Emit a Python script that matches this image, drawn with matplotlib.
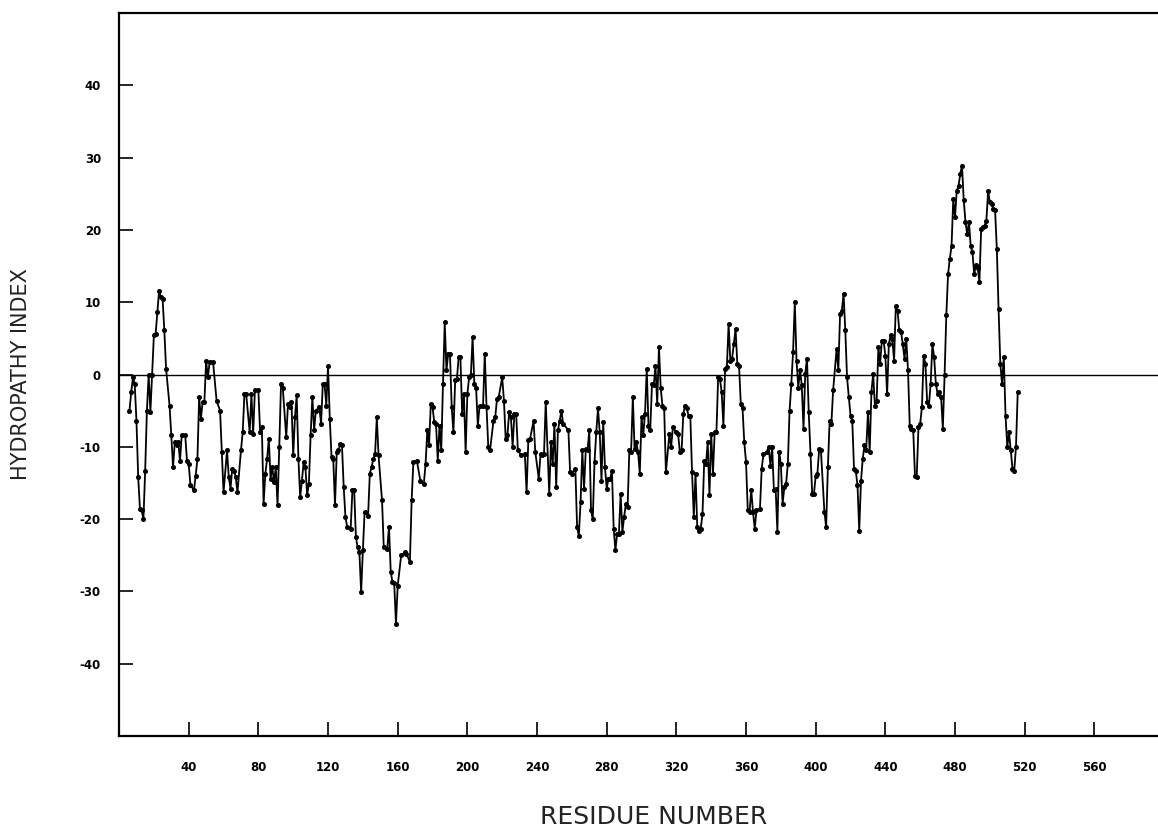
import matplotlib.pyplot as plt

# residue positions and hydropathy values
residue = [
    6, 7, 8, 9, 10, 11, 12, 13, 14, 15, 16, 17, 18, 19, 20, 21, 22, 23, 24, 25,
    26, 27, 29, 30, 31, 32, 33, 34, 35, 36, 38, 39, 40, 41, 43, 44, 45, 46, 47, 48,
    49, 50, 51, 52, 54, 56, 58, 59, 60, 62, 63, 64, 65, 66, 67, 68, 70, 71, 72, 73,
    75, 76, 77, 78, 80, 81, 82, 83, 84, 85, 86, 87, 88, 89, 90, 91, 92, 93, 94, 96,
    97, 98, 99, 100, 101, 102, 103, 104, 105, 106, 107, 108, 109, 110, 111, 112, 113, 115, 116, 117,
    118, 119, 120, 121, 122, 123, 124, 125, 126, 127, 128, 129, 130,
    131, 133, 134, 135, 136, 137, 138, 139, 140, 141, 143, 144, 145, 146, 147, 148, 149, 151, 152, 154,
    155, 156, 157, 158, 159, 160, 162, 164, 165, 167, 168, 169, 171, 173, 175, 176, 177, 178, 179, 180,
    181, 182, 183, 184, 185, 186, 187, 188, 189, 190, 191, 192, 193, 194, 195, 196, 197, 198, 199, 200,
    201, 202, 203, 204, 205, 206, 207, 209, 210, 211, 212, 213, 215, 216, 217, 218, 220, 221, 222, 223,
    224, 225, 226, 227, 228, 229, 231, 233, 234, 235, 236, 238, 239, 241, 242, 243, 244, 245, 247, 248,
    249, 250, 251, 252, 253, 254, 255, 258, 259,
    260, 262, 263, 264, 265, 266, 267, 268, 269, 270, 271, 272, 273, 274, 275, 276, 277, 278, 279, 280,
    281, 282, 283, 284, 285, 286, 287, 288, 289, 290, 291, 292, 293, 294, 295, 296, 297, 298, 299, 300,
    301, 302, 303, 304, 305, 306, 307, 308, 309, 310, 311, 312, 313, 314, 316, 317, 318, 320, 321, 322,
    323, 324, 325, 326, 327, 328, 329, 330, 331, 332, 333, 334, 335, 336, 337, 338, 339, 340, 341, 342,
    343, 344, 345, 346, 347, 348, 349, 350, 351, 352, 353, 354, 355, 356, 357, 358, 359, 360, 361, 362,
    363, 364, 365, 366, 368, 369, 370, 372, 373, 374, 375, 376, 377, 378, 379, 380, 381, 382, 383, 384,
    385, 386, 387,
    388, 389, 390, 391, 392, 393, 394, 395, 396, 397, 398, 399, 400, 401, 402, 403, 405, 406, 407, 408,
    409, 410, 412, 413, 414, 415, 416, 417, 418, 419, 420, 421, 422, 423, 424, 425, 426, 427, 428, 429,
    430, 431, 432, 433, 434, 435, 436, 437, 438, 439, 440, 441, 442, 443, 444, 445, 446, 447, 448, 449,
    450, 451, 452, 453, 454, 455, 456, 457, 458, 459, 460, 461, 462, 463, 464, 465, 466, 467, 468, 469,
    470, 471, 472, 473, 474, 475, 476, 477, 478, 479, 480, 481, 482, 483, 484, 485, 486, 487, 488, 489,
    490, 491, 492, 493, 494, 495, 496, 497, 498, 499, 500, 501, 502, 503, 504, 505, 506, 507, 508, 509,
    510, 511, 512, 513, 514, 515, 516,
]

hydropathy = [
    -5.0, -2.4, -0.4, -1.3, -6.4, -14.2, -18.6, -18.8, -20.0, -13.3, -5.0, 0.0, -5.2, 0.0, 5.4, 5.6, 8.6, 11.6, 10.7, 10.5,
    6.1, 0.8, -4.3, -8.4, -12.8, -9.4, -9.8, -9.4, -11.9, -8.4, -8.4, -11.9, -12.4, -15.3, -16.0, -14.0, -11.7, -3.1, -6.1, -3.8,
    -3.8, 1.9, -0.4, 1.7, 1.7, -3.6, -5.0, -10.7, -16.3, -10.5, -14.2, -15.8, -13.0, -13.3, -14.2, -16.3, -10.5, -8.0, -2.7, -2.7,
    -8.0, -2.7, -8.2, -2.2, -2.2, -8.0, -7.3, -17.9, -13.7, -11.7, -8.9, -14.4, -12.8, -14.9, -12.8, -18.1, -10.0, -1.3, -1.8, -8.7,
    -4.1, -4.5, -3.8, -11.2, -5.9, -2.9, -11.7, -17.0, -14.7, -12.1, -12.8, -16.7, -15.1, -8.4, -3.1, -7.7, -5.0, -4.5, -6.8, -1.3,
    -1.3, -4.3, 1.2, -6.1, -11.4, -11.7, -18.1, -10.7, -10.5, -9.6, -9.8, -15.6, -19.7,
    -21.1, -21.3, -16.0, -16.0, -22.5, -23.9, -24.6, -30.1, -24.3, -19.0, -19.5, -13.7, -12.8, -11.7, -11.0, -5.9, -11.2, -17.4, -23.9, -24.1,
    -21.1, -27.3, -28.7, -28.9, -34.5, -29.2, -25.0, -24.6, -24.8, -25.9, -17.4, -12.1, -11.9, -14.7, -15.1, -12.4, -7.7, -9.8, -4.1, -4.5,
    -6.6, -6.8, -11.9, -7.1, -10.5, -1.3, 7.2, 0.6, 2.9, 2.9, -4.5, -8.0, -0.8, -0.6, 2.4, 2.4, -5.4, -2.7, -10.7, -2.7,
    -0.4, -0.1, 5.2, -1.3, -1.8, -7.1, -4.3, -4.3, 2.9, -4.5, -10.0, -10.5, -6.4, -5.9, -3.4, -3.1, -0.4, -3.6, -8.9, -8.4,
    -5.2, -5.9, -10.0, -5.4, -5.4, -10.5, -11.2, -11.0, -16.3, -9.1, -8.9, -6.4, -10.7, -14.4, -11.0, -11.2, -11.0, -3.8, -16.5, -9.4,
    -12.4, -6.8, -15.6, -7.7, -6.4, -5.0, -6.8, -7.7, -13.5,
    -13.7, -13.0, -21.1, -22.3, -17.6, -10.5, -15.8, -10.3, -10.5, -7.7, -18.8, -20.0, -12.1, -8.0, -4.7, -8.0, -14.7, -6.6, -12.8, -15.8,
    -14.4, -14.4, -13.3, -21.3, -24.3, -22.0, -22.0, -16.5, -21.8, -19.7, -17.9, -18.3, -10.5, -10.7, -3.1, -10.3, -9.4, -10.7, -13.7, -5.9,
    -8.4, -5.4, 0.8, -7.1, -7.7, -1.3, -1.5, 1.2, -4.1, 3.8, -1.8, -4.3, -4.7, -13.5, -8.2, -10.0, -7.3, -8.0, -8.2, -10.7,
    -10.5, -5.4, -4.3, -4.7, -5.7, -5.7, -13.5, -19.7, -13.7, -21.1, -21.6, -21.3, -19.3, -11.9, -12.4, -9.4, -16.7, -8.2, -13.7, -8.0,
    -8.0, -0.4, -0.6, -2.4, -7.1, 0.8, 1.0, 7.0, 1.9, 2.2, 4.2, 6.3, 1.5, 1.2, -4.1, -4.7, -9.4, -12.1, -18.8, -19.0,
    -16.0, -19.0, -21.3, -18.8, -18.6, -13.0, -11.0, -10.7, -10.0, -12.6, -10.0, -16.0, -15.8, -21.8, -10.7, -12.4, -17.9, -15.6, -15.1, -12.4,
    -5.0, -1.3, 3.1,
    10.0, 1.9, -1.8, 0.6, -1.5, -7.5, 0.1, 2.2, -5.2, -11.0, -16.5, -16.5, -14.0, -13.7, -10.3, -10.5, -19.0, -21.1, -12.8, -6.4,
    -6.8, -2.2, 3.5, 0.6, 8.4, 8.8, 11.2, 6.1, -0.4, -3.1, -5.7, -6.4, -13.0, -13.3, -15.3, -21.6, -14.7, -11.7, -9.8, -10.5,
    -5.2, -10.7, -2.4, 0.1, -4.3, -3.6, 3.8, 1.5, 4.7, 4.7, 2.6, -2.7, 4.2, 5.4, 4.9, 1.9, 9.5, 8.8, 6.1, 5.9,
    4.2, 2.2, 4.9, 0.6, -7.1, -7.5, -7.7, -14.0, -14.2, -7.3, -6.8, -4.5, 2.6, 1.5, -3.8, -4.3, -1.3, 4.2, 2.4, -1.3,
    -2.7, -2.4, -3.1, -7.5, -0.1, 8.2, 13.9, 16.0, 17.8, 24.3, 21.8, 25.4, 26.1, 27.7, 28.9, 24.1, 21.1, 19.4, 21.1, 17.8,
    16.9, 13.9, 15.1, 14.8, 12.8, 20.1, 20.4, 20.6, 21.3, 25.4, 23.8, 23.6, 22.9, 22.7, 17.4, 9.1, 1.5, -1.3, 2.4, -5.7,
    -10.0, -8.0, -10.5, -13.0, -13.3, -10.0, -2.4,
]

x_ticks = [40, 80, 120, 160, 200, 240, 280, 320, 360, 400, 440, 480, 520, 560]
y_ticks = [-40, -30, -20, -10, 0, 10, 20, 30, 40]

plt.rcParams['axes.unicode_minus'] = False

fig = plt.figure(figsize=(11.58, 8.33), dpi=100)
ax = fig.add_axes([0.1028, 0.1164, 0.9024, 0.868])

ax.axhline(0, color='black', lw=1.0)
ax.plot(residue, hydropathy, '-o', color='black', lw=1.3, ms=2.6)

ax.set_xlim(0, 600)
ax.set_ylim(-50, 50)
ax.set_xticks(x_ticks)
ax.set_yticks(y_ticks)
ax.tick_params(axis='both', direction='in', length=10, width=1.2, labelsize=8.5)
ax.tick_params(axis='x', pad=18)
ax.tick_params(axis='y', pad=13)
for lab in ax.get_xticklabels() + ax.get_yticklabels():
    lab.set_fontweight('bold')
for sp in ax.spines.values():
    sp.set_linewidth(1.6)

ax.set_xlabel('RESIDUE NUMBER', fontsize=18, color='#222222')
ax.xaxis.set_label_coords(0.512, -0.096)
ax.set_ylabel('HYDROPATHY INDEX', fontsize=15, color='#222222')
ax.yaxis.set_label_coords(-0.084, 0.5)

fig.savefig('out.png', dpi=100)
